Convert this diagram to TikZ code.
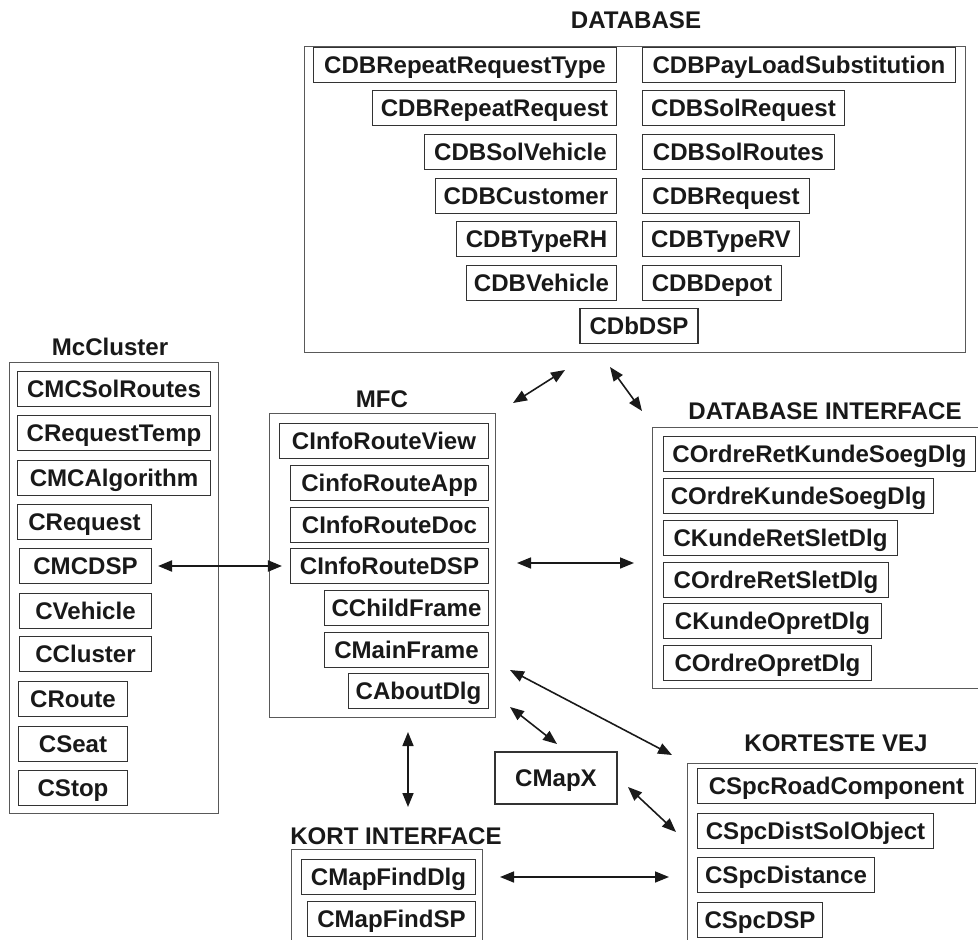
\documentclass[tikz,border=0pt]{standalone}
\usepackage{fontspec}
\setmainfont{Liberation Sans}
\usetikzlibrary{arrows.meta,positioning}

\begin{document}
\begin{tikzpicture}[x=0.02cm, y=-0.02cm,
  pkg/.style={draw=black!65, line width=0.6pt, anchor=north west, inner sep=0pt},
  cls/.style={draw=black!80, line width=0.6pt, minimum height=0.69cm, inner sep=0pt, text height=9.8pt, text depth=0pt, font=\fontsize{13.7}{16}\selectfont\bfseries, text=black!90},
  titel/.style={inner sep=0pt, text height=9.8pt, text depth=0pt, font=\fontsize{13.7}{16}\selectfont\bfseries, text=black!90},
  flow/.style={<->, >={Triangle[length=2.8mm,width=2.2mm]}, line width=0.9pt, black!90}]
\useasboundingbox (0,0) rectangle (978,940);
\clip (0,0) rectangle (978,940);

% DATABASE
\node[pkg, minimum width=13.22cm, minimum height=6.12cm] (db) at (304,46) {};
\node[titel] (dbtitel) at (636,20) {DATABASE};
\node[cls, anchor=east, minimum width=6.06cm] (rrtype) at (617,65) {CDBRepeatRequestType};
\node[cls, anchor=east, minimum width=4.88cm] (rreq) at (617,108) {CDBRepeatRequest};
\node[cls, anchor=east, minimum width=3.84cm] (solveh) at (617,152) {CDBSolVehicle};
\node[cls, anchor=east, minimum width=3.62cm] (cust) at (617,196) {CDBCustomer};
\node[cls, anchor=east, minimum width=3.20cm] (typerh) at (617,239) {CDBTypeRH};
\node[cls, anchor=east, minimum width=3.00cm] (vehicle) at (617,283) {CDBVehicle};
\node[cls, anchor=west, minimum width=6.26cm] (payload) at (642,65) {CDBPayLoadSubstitution};
\node[cls, anchor=west, minimum width=4.04cm] (solreq) at (642,108) {CDBSolRequest};
\node[cls, anchor=west, minimum width=3.84cm] (solroutes) at (642,152) {CDBSolRoutes};
\node[cls, anchor=west, minimum width=3.34cm] (request) at (642,196) {CDBRequest};
\node[cls, anchor=west, minimum width=3.14cm] (typerv) at (642,239) {CDBTypeRV};
\node[cls, anchor=west, minimum width=2.78cm] (depot) at (642,283) {CDBDepot};
\node[cls, minimum width=2.36cm] (dbdsp) at (639,326) {CDbDSP};

% McCluster
\node[pkg, minimum width=4.18cm, minimum height=9.02cm] (mc) at (9,362) {};
\node[titel] (mctitel) at (110,347) {McCluster};
\node[cls, anchor=west, minimum width=3.86cm] (mcsol) at (17,389) {CMCSolRoutes};
\node[cls, anchor=west, minimum width=3.86cm] (reqtemp) at (17,433) {CRequestTemp};
\node[cls, anchor=west, minimum width=3.86cm] (mcalg) at (17,478) {CMCAlgorithm};
\node[cls, anchor=west, minimum width=2.68cm] (mcreq) at (17,522) {CRequest};
\node[cls, anchor=west, minimum width=2.64cm] (mcdsp) at (19,566) {CMCDSP};
\node[cls, anchor=west, minimum width=2.64cm] (mcveh) at (19,611) {CVehicle};
\node[cls, anchor=west, minimum width=2.64cm] (mcclu) at (19,654) {CCluster};
\node[cls, anchor=west, minimum width=2.18cm] (mcroute) at (18,699) {CRoute};
\node[cls, anchor=west, minimum width=2.18cm] (mcseat) at (18,744) {CSeat};
\node[cls, anchor=west, minimum width=2.18cm] (mcstop) at (18,788) {CStop};

% MFC
\node[pkg, minimum width=4.52cm, minimum height=6.08cm] (mfc) at (269,413) {};
\node[titel] (mfctitel) at (382,399) {MFC};
\node[cls, anchor=east, minimum width=4.18cm] (view) at (489,441) {CInfoRouteView};
\node[cls, anchor=east, minimum width=3.96cm] (app) at (489,483) {CinfoRouteApp};
\node[cls, anchor=east, minimum width=3.96cm] (doc) at (489,525) {CInfoRouteDoc};
\node[cls, anchor=east, minimum width=3.96cm] (mfcdsp) at (489,566) {CInfoRouteDSP};
\node[cls, anchor=east, minimum width=3.28cm] (child) at (489,608) {CChildFrame};
\node[cls, anchor=east, minimum width=3.28cm] (mainfr) at (489,650) {CMainFrame};
\node[cls, anchor=east, minimum width=2.80cm] (about) at (489,691) {CAboutDlg};

% DATABASE INTERFACE
\node[pkg, minimum width=7cm, minimum height=5.22cm] (dbi) at (652,427) {};
\node[titel] (dbititel) at (825,411) {DATABASE INTERFACE};
\node[cls, anchor=west, minimum width=6.24cm] (orks) at (663,454) {COrdreRetKundeSoegDlg};
\node[cls, anchor=west, minimum width=5.40cm] (oks) at (663,496) {COrdreKundeSoegDlg};
\node[cls, anchor=west, minimum width=4.68cm] (krs) at (663,538) {CKundeRetSletDlg};
\node[cls, anchor=west, minimum width=4.50cm] (ors) at (663,580) {COrdreRetSletDlg};
\node[cls, anchor=west, minimum width=4.36cm] (kop) at (663,621) {CKundeOpretDlg};
\node[cls, anchor=west, minimum width=4.16cm] (oop) at (663,663) {COrdreOpretDlg};

% KORT INTERFACE
\node[pkg, minimum width=3.82cm, minimum height=3cm] (kort) at (291,849) {};
\node[titel] (korttitel) at (396,836) {KORT INTERFACE};
\node[cls, anchor=east, minimum width=3.48cm] (finddlg) at (476,877) {CMapFindDlg};
\node[cls, anchor=east, minimum width=3.36cm] (findsp) at (476,919) {CMapFindSP};

% KORTESTE VEJ
\node[pkg, minimum width=7cm, minimum height=4cm] (kv) at (687,763) {};
\node[titel] (kvtitel) at (836,743) {KORTESTE VEJ};
\node[cls, anchor=west, minimum width=5.56cm] (road) at (697,786) {CSpcRoadComponent};
\node[cls, anchor=west, minimum width=4.72cm] (distsol) at (697,831) {CSpcDistSolObject};
\node[cls, anchor=west, minimum width=3.54cm] (dist) at (697,875) {CSpcDistance};
\node[cls, anchor=west, minimum width=2.50cm] (spcdsp) at (697,920) {CSpcDSP};

\node[cls, minimum width=2.44cm, minimum height=1.04cm] (mapx) at (556,778) {CMapX};

% arrow ends
\coordinate (mfcdb) at (513,403);   \coordinate (dbmfc) at (565,370);
\coordinate (dbdbi) at (610,367);   \coordinate (dbidb) at (642,411);
\coordinate (mfcdbi) at (517,563);  \coordinate (dbimfc) at (634,563);
\coordinate (mfckv) at (510,670);   \coordinate (kvmfc) at (672,755);
\coordinate (mfcmapx) at (510,707); \coordinate (mapxmfc) at (557,744);
\coordinate (mfckort) at (408,732); \coordinate (kortmfc) at (408,807);
\coordinate (mapxkv) at (628,787);  \coordinate (kvmapx) at (676,832);
\coordinate (kortkv) at (500,877);  \coordinate (kvkort) at (669,877);

\draw[flow, line width=1.2pt, shorten <=0.12cm, shorten >=0.16cm] (mcdsp.east) -- (mfcdsp.west);
\draw[flow] (mfcdb) -- (dbmfc);
\draw[flow] (dbdbi) -- (dbidb);
\draw[flow] (mfcdbi) -- (dbimfc);
\draw[flow] (mfckv) -- (kvmfc);
\draw[flow] (mfcmapx) -- (mapxmfc);
\draw[flow] (mfckort) -- (kortmfc);
\draw[flow] (mapxkv) -- (kvmapx);
\draw[flow] (kortkv) -- (kvkort);
\end{tikzpicture}
\end{document}
